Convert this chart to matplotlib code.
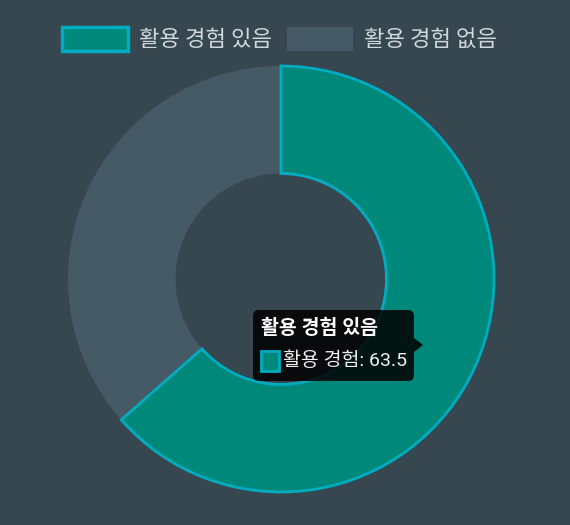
import matplotlib
matplotlib.use("Agg")
import matplotlib.pyplot as plt
from matplotlib.patches import FancyBboxPatch, Rectangle, Polygon

plt.rcParams["font.family"] = ["Noto Sans CJK KR", "DejaVu Sans"]
tip_font = ["Roboto", "Noto Sans CJK KR"]

# data
labels = ["활용 경험 있음", "활용 경험 없음"]
values = [63.5, 36.5]
series_name = "활용 경험"
colors = ["#00897b", "#455a64"]
border = "#00acc1"
bg = "#37474f"

W, H = 570, 525
fig = plt.figure(figsize=(W / 100, H / 100), dpi=100, facecolor=bg)

# donut, placed in pixel terms: centre (281, 279), radius 213
cx, cy, r = 281, 279, 213
pax = fig.add_axes([(cx - r) / W, (H - cy - r) / H, 2 * r / W, 2 * r / H])
wedges, _ = pax.pie(
    values, colors=colors, startangle=90, counterclock=False,
    wedgeprops=dict(width=0.505, linewidth=0),
)
wedges[0].set_edgecolor(border)
wedges[0].set_linewidth(2)
wedges[0].set_zorder(3)
pax.set_xlim(-1, 1)
pax.set_ylim(-1, 1)
pax.set_aspect("auto")
pax.axis("off")

# overlay in pixel coordinates for legend and tooltip
ov = fig.add_axes([0, 0, 1, 1])
ov.set_xlim(0, W)
ov.set_ylim(H, 0)
ov.axis("off")
ov.patch.set_alpha(0)

# legend
legend_x = [62, 287]
for i, (lab, col) in enumerate(zip(labels, colors)):
    x0 = legend_x[i]
    ec = border if i == 0 else "none"
    ov.add_patch(Rectangle((x0, 26.5), 66, 24, facecolor=col, edgecolor=ec, lw=2.5))
    ov.text(x0 + 77, 39, lab, color="#cfd8dc", fontsize=16, va="center", ha="left")

# tooltip
ov.add_patch(FancyBboxPatch((253, 310), 161, 71, boxstyle="round,pad=0,rounding_size=6",
                            facecolor="#000000", alpha=0.85, edgecolor="none", zorder=5))
ov.add_patch(Polygon([(414, 338), (423, 345), (414, 352)], closed=True,
                     facecolor="#000000", alpha=0.85, edgecolor="none", zorder=5))
ov.text(261, 328, labels[0], color="white", fontsize=14, fontweight="bold",
        family=tip_font, va="center", ha="left", zorder=6)
ov.add_patch(Rectangle((261, 351), 18, 20, facecolor=colors[0], edgecolor=border,
                       lw=2, zorder=6))
ov.text(283, 361, f"{series_name}: {values[0]}", color="#f0f0f0", fontsize=14,
        family=tip_font, va="center", ha="left", zorder=6)

fig.savefig("out.png", dpi=100, facecolor=bg)
